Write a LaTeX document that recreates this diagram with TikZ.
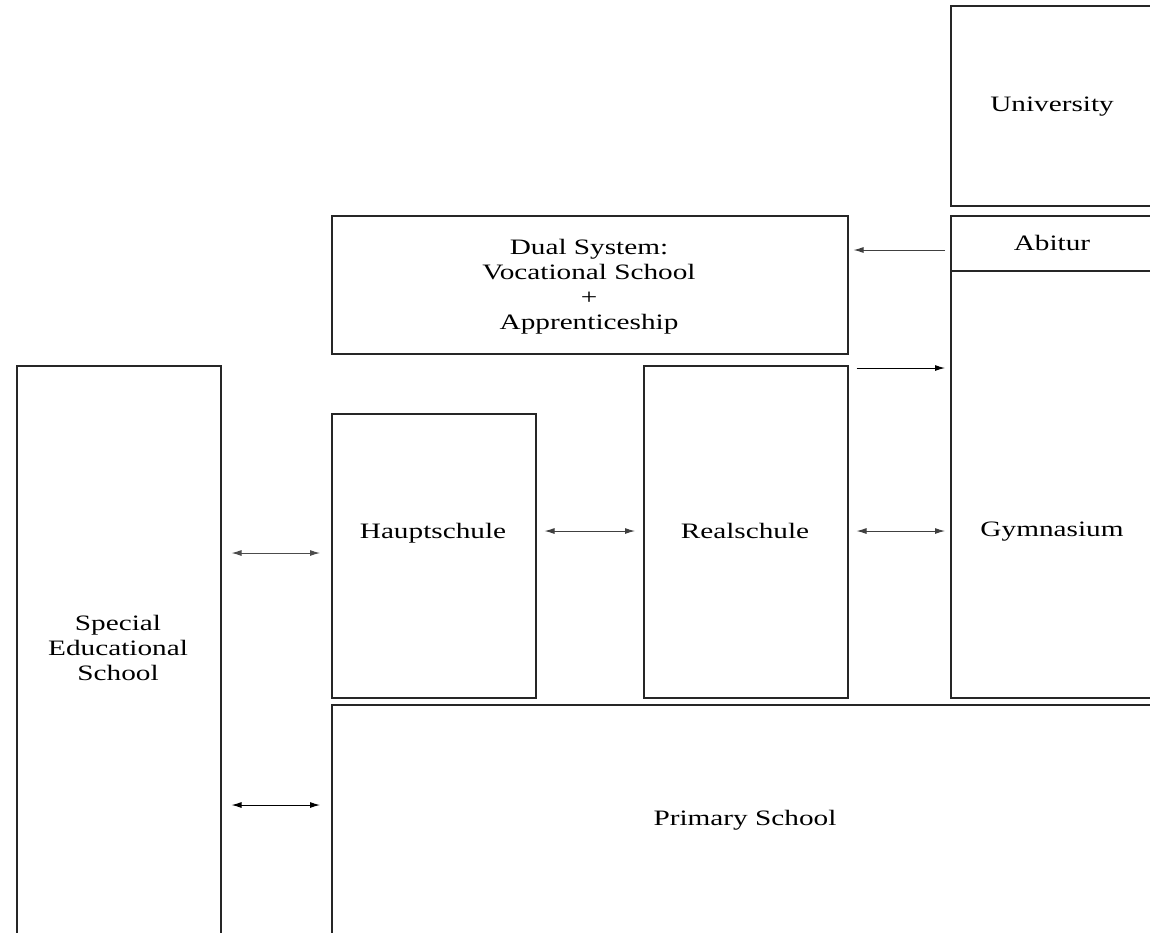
\documentclass[tikz,border=0pt]{standalone}
\usepackage{fontspec}
\setmainfont{Liberation Serif}
\usetikzlibrary{arrows.meta}
% wide-set label text
\newcommand{\widetext}[1]{\scalebox{1.33}[1]{\fontsize{22}{25}\selectfont\begin{tabular}{@{}c@{}}#1\end{tabular}}}
\begin{document}
\begin{tikzpicture}[x=1pt,y=-1pt,
  box/.style={draw=black!85,line width=1.5pt,rectangle,inner sep=0pt,anchor=north west},
  lbl/.style={inner sep=0pt},
  arr/.style={line width=1pt,-{Latex[length=10pt,width=6pt]}},
  dar/.style={line width=1pt,{Latex[length=10pt,width=6pt]}-{Latex[length=10pt,width=6pt]}}]
\useasboundingbox (0,0) rectangle (1150,932);
\clip (0,0) rectangle (1150,932);
% school boxes
\node[box,minimum width=204pt,minimum height=200pt] (uni) at (950,5) {};
\node[box,minimum width=204pt,minimum height=55pt] (abi) at (950,215) {};
\node[box,minimum width=204pt,minimum height=427pt] (gym) at (950,270) {};
\node[box,minimum width=516pt,minimum height=138pt] (dual) at (331,215) {};
\node[box,minimum width=204pt,minimum height=570pt] (spec) at (16,365) {};
\node[box,minimum width=204pt,minimum height=284pt] (haupt) at (331,413) {};
\node[box,minimum width=204pt,minimum height=332pt] (real) at (643,365) {};
\node[box,minimum width=830pt,minimum height=232pt] (prim) at (331,704) {};
% labels
\node[lbl] (tuni) at (1052,106) {\widetext{University}};
\node[lbl] (tabi) at (1052,245) {\widetext{Abitur}};
\node[lbl] (tgym) at (1052,531) {\widetext{Gymnasium}};
\node[lbl] (tdual) at (589,287) {\widetext{Dual System:\\Vocational School\\+\\Apprenticeship}};
\node[lbl] (tspec) at (118,650) {\widetext{Special\\Educational\\School}};
\node[lbl] (thaupt) at (433,533) {\widetext{Hauptschule}};
\node[lbl] (treal) at (745,533) {\widetext{Realschule}};
\node[lbl] (tprim) at (745,820) {\widetext{Primary School}};
% transitions
\draw[arr,black!75] ([xshift=-5pt]abi.west |- 0,250) -- ([xshift=5pt]dual.east |- 0,250);
\draw[arr] ([xshift=8pt]real.east |- 0,368) -- ([xshift=-5pt]gym.west |- 0,368);
\draw[dar,black!70] ([xshift=10pt]spec.east |- 0,553) -- ([xshift=-11pt]haupt.west |- 0,553);
\draw[dar,black!75] ([xshift=8pt]haupt.east |- 0,531) -- ([xshift=-8pt]real.west |- 0,531);
\draw[dar,black!75] ([xshift=8pt]real.east |- 0,531) -- ([xshift=-5pt]gym.west |- 0,531);
\draw[dar] ([xshift=10pt]spec.east |- 0,805) -- ([xshift=-11pt]prim.west |- 0,805);
\end{tikzpicture}
\end{document}
